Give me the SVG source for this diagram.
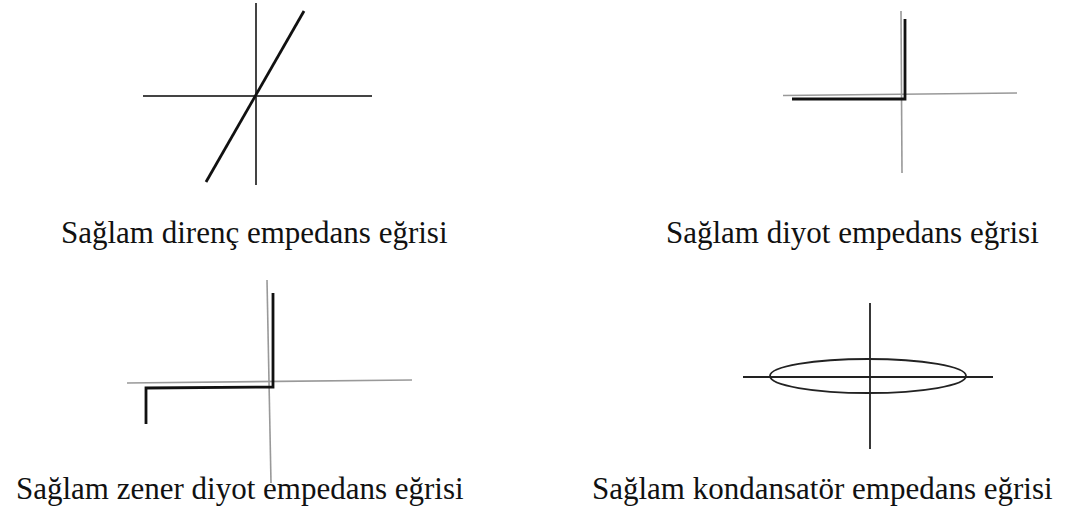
<svg xmlns="http://www.w3.org/2000/svg" width="1070" height="510" viewBox="0 0 1070 510">
<style>
.lbl{font-family:"Liberation Serif","Times New Roman",serif;font-size:31px;fill:#111}
.ax{stroke:#444;stroke-width:2;fill:none}
.axl{stroke:#999;stroke-width:1.6;fill:none}
.crv{stroke:#111;stroke-width:2.8;fill:none;stroke-linejoin:miter}
.cap{stroke:#222;stroke-width:1.8;fill:none}
</style>
<rect width="1070" height="510" fill="#fff"/>
<g id="direnc">
<line class="ax" x1="256" y1="3" x2="256" y2="185"/>
<line class="ax" x1="143" y1="96" x2="372" y2="96"/>
<line class="crv" x1="206" y1="182" x2="304" y2="11"/>
<text class="lbl" x="61" y="243">Sağlam direnç empedans eğrisi</text>
</g>
<g id="diyot">
<line class="axl" x1="901" y1="11" x2="902" y2="173"/>
<line class="axl" x1="783" y1="95.5" x2="1017" y2="93"/>
<polyline class="crv" points="905,19 905,99 792,99"/>
<text class="lbl" x="666" y="243">Sağlam diyot empedans eğrisi</text>
</g>
<g id="zener">
<line class="axl" x1="267" y1="280" x2="271" y2="483"/>
<line class="axl" x1="127" y1="383" x2="412" y2="380"/>
<polyline class="crv" points="273,293 273,387 146,388 146,424"/>
<text class="lbl" x="16" y="499">Sağlam zener diyot empedans eğrisi</text>
</g>
<g id="kondansator">
<line class="cap" x1="870" y1="303" x2="870" y2="449"/>
<line class="cap" x1="743" y1="377" x2="993" y2="377"/>
<ellipse class="cap" cx="868" cy="376" rx="98" ry="17"/>
<text class="lbl" x="592" y="499">Sağlam kondansatör empedans eğrisi</text>
</g>
</svg>
